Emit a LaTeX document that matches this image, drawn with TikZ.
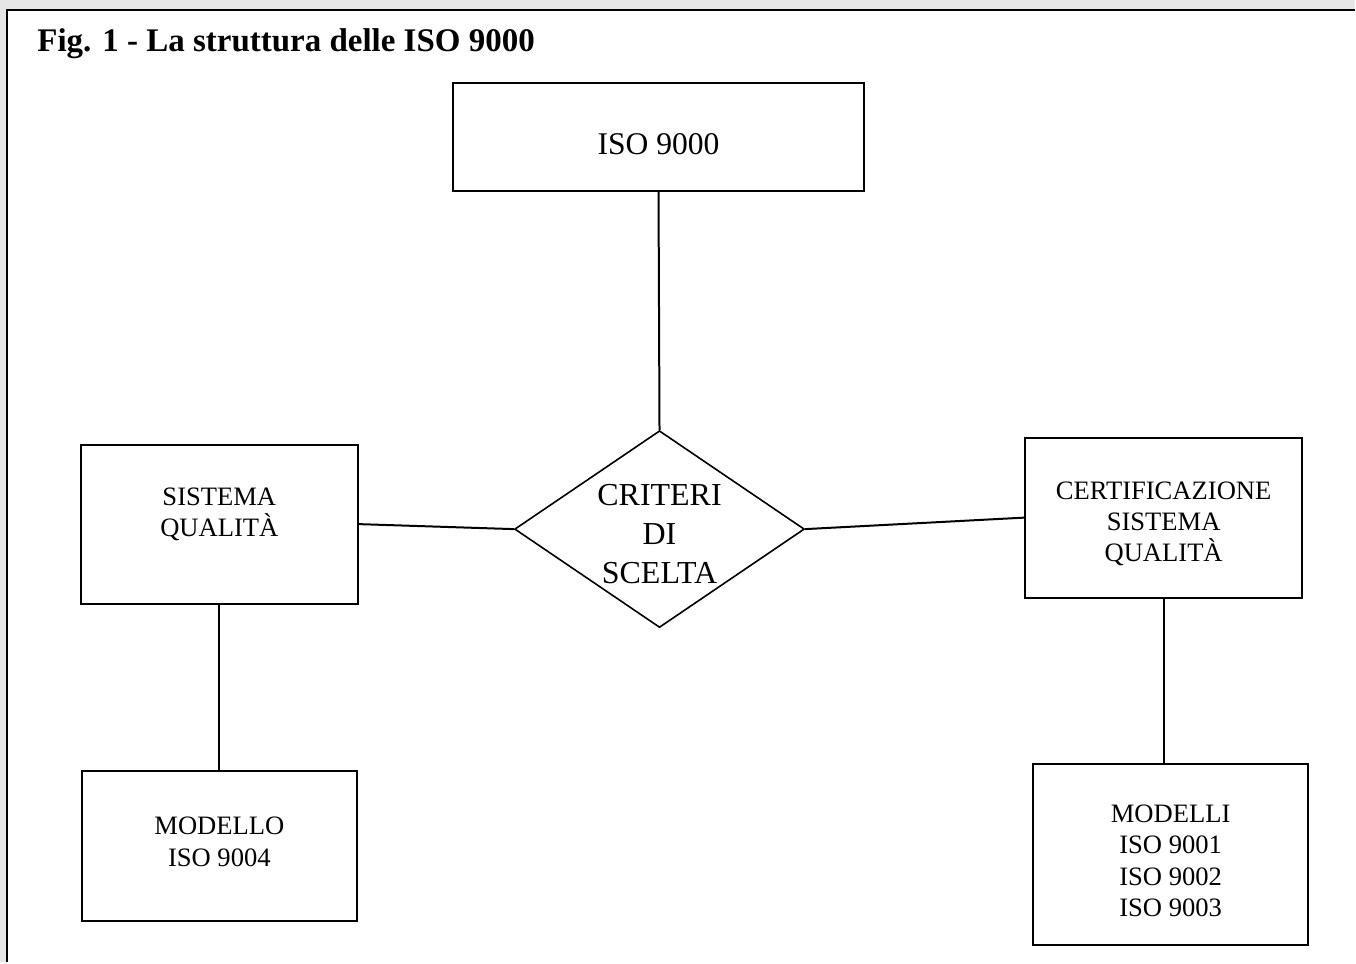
\documentclass[tikz,border=0pt]{standalone}
\usepackage{fontspec}
\setmainfont{Liberation Serif}
\usetikzlibrary{shapes.geometric}
\definecolor{pageback}{RGB}{230,230,230}

\begin{document}
\begin{tikzpicture}[x=0.5pt,y=-0.5pt,
  every node/.style={align=center},
  block/.style={draw,line width=1pt,rectangle,inner sep=0pt},
  boxtext/.style={inner sep=0pt,font=\fontsize{13.3}{15.6}\selectfont},
  choice/.style={draw,line width=0.8pt,diamond,aspect=1.47,inner sep=0pt,
    minimum width=145pt,minimum height=98.5pt},
  choicetext/.style={inner sep=0pt,font=\fontsize{16}{19.5}\selectfont},
  link/.style={line width=1pt}]

%frame of the page
  \fill[pageback] (0,0) rectangle (1356,963);
  \fill[white] (7,10) rectangle (1356,963);
  \draw[line width=1pt] (7,963) -- (7,10) -- (1356,10);
  \useasboundingbox (0,0) rectangle (1356,963);

%title
  \node[anchor=base west,inner sep=0pt,font=\bfseries\fontsize{16.5}{20}\selectfont]
    (title) at (37,52) {Fig. 1 - La struttura delle ISO 9000};

%boxes
  \node[block,minimum width=206pt,minimum height=54pt,
    label={[boxtext,font=\fontsize{15.8}{18}\selectfont,yshift=-3.5pt]center:ISO 9000}]
    (iso) at (659,137) {};
  \node[choice,label={[choicetext,yshift=-2.5pt]center:CRITERI\\DI\\SCELTA}]
    (crit) at (660,529.5) {};
  \node[block,minimum width=138.5pt,minimum height=79.5pt,
    label={[boxtext,yshift=4.75pt]center:SISTEMA\\QUALITÀ}]
    (sq) at (219.5,524.5) {};
  \node[block,minimum width=138.5pt,minimum height=80pt,
    label={[boxtext,yshift=-3pt]center:CERTIFICAZIONE\\SISTEMA\\QUALITÀ}]
    (cert) at (1164.5,518) {};
  \node[block,minimum width=137.5pt,minimum height=75pt,
    label={[boxtext,yshift=2.25pt]center:MODELLO\\ISO 9004}]
    (mod4) at (219.5,847) {};
  \node[block,minimum width=137.5pt,minimum height=90.5pt,
    label={[boxtext,yshift=-3pt]center:MODELLI\\ISO 9001\\ISO 9002\\ISO 9003}]
    (mod123) at (1171.5,855.5) {};

%connections
  \draw[link] (iso.south) -- (crit.north);
  \draw[link] (sq.east) -- (crit.west);
  \draw[link] (crit.east) -- (cert.west);
  \draw[link] (sq.south) -- (sq.south |- mod4.north);
  \draw[link] (cert.south) -- (cert.south |- mod123.north);

\end{tikzpicture}
\end{document}
